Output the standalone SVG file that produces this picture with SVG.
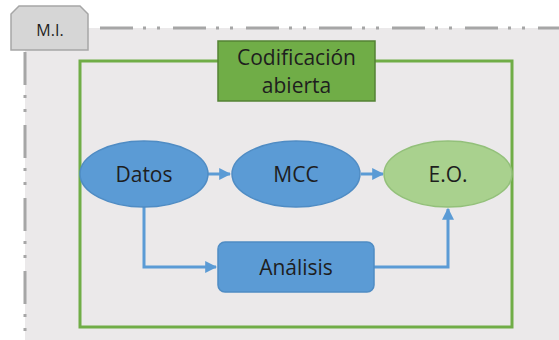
<svg xmlns="http://www.w3.org/2000/svg" width="559" height="340" viewBox="0 0 559 340">
<style>
.t{font-family:"Open Sans","Liberation Sans",sans-serif;fill:#1e1e1e;text-anchor:middle;dominant-baseline:central}
.blue{fill:#5b9bd5;stroke:#4f8cc4;stroke-width:1.5}
.con{fill:none;stroke:#5b9bd5;stroke-width:3}
.frame{fill:none;stroke:#a6a6a6;stroke-width:3;stroke-dasharray:33 10 3 11 3 13}
</style>
<defs>
<marker id="ah" viewBox="0 0 10 10" refX="9" refY="5" markerWidth="4" markerHeight="4" orient="auto" markerUnits="strokeWidth">
<path d="M0,0 L10,5 L0,10 z" fill="#5b9bd5"/>
</marker>
</defs>
<rect width="559" height="340" fill="#ffffff"/>
<rect x="25" y="28" width="534" height="312" fill="#ebe9ea"/>
<path class="frame" d="M100,28 H559"/>
<path class="frame" d="M25,52 V340"/>
<g id="tab">
<path d="M11,50 V14 L19,6 H80 L88,14 V50 Z" fill="#d6d6d6" stroke="#a6a6a6" stroke-width="1.5"/>
<text class="t" x="50" y="30" font-size="16">M.I.</text>
</g>
<g id="container">
<rect x="80" y="61" width="432" height="266" fill="none" stroke="#70ad47" stroke-width="3"/>
</g>
<g id="codificacion">
<rect x="218" y="41" width="157" height="60" fill="#70ad47" stroke="#548235" stroke-width="1.5"/>
<text class="t" x="296.5" y="57" font-size="21">Codificación</text>
<text class="t" x="296.5" y="85" font-size="21">abierta</text>
</g>
<g id="connectors">
<path class="con" d="M208,174 H230" marker-end="url(#ah)"/>
<path class="con" d="M361,174 H383" marker-end="url(#ah)"/>
<path class="con" d="M144,207 V267 H216" marker-end="url(#ah)"/>
<path class="con" d="M374,267 H448 V209" marker-end="url(#ah)"/>
</g>
<g id="datos">
<ellipse class="blue" cx="144" cy="174" rx="64" ry="33"/>
<text class="t" x="144" y="174" font-size="21">Datos</text>
</g>
<g id="mcc">
<ellipse class="blue" cx="296" cy="174" rx="64" ry="33"/>
<text class="t" x="296" y="174" font-size="21">MCC</text>
</g>
<g id="eo">
<ellipse cx="448" cy="174" rx="64" ry="33" fill="#a9d18e" stroke="#93c07a" stroke-width="1.5"/>
<text class="t" x="448" y="174" font-size="21">E.O.</text>
</g>
<g id="analisis">
<rect class="blue" x="218" y="242" width="156" height="50" rx="7"/>
<text class="t" x="296" y="267" font-size="21">Análisis</text>
</g>
</svg>
